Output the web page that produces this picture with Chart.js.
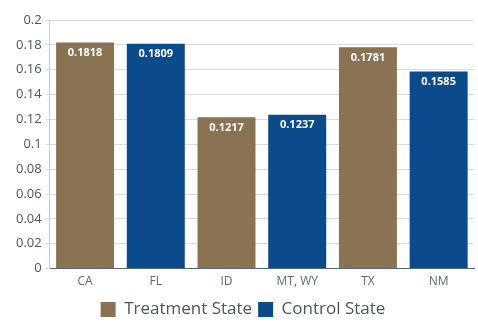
<!DOCTYPE html>
<html>
<head>
<meta charset="utf-8">
<script src="https://cdn.jsdelivr.net/npm/chart.js@4/dist/chart.umd.min.js"></script>
<style>
  html, body { margin: 0; padding: 0; background: #ffffff; }
  #wrap { width: 478px; height: 322px; }
</style>
</head>
<body>
<div id="wrap"><canvas id="c" width="478" height="322"></canvas></div>
<script>
const states = ['CA', 'FL', 'ID', 'MT, WY', 'TX', 'NM'];
const treatmentValues = [0.1818, null, 0.1217, null, 0.1781, null];
const controlValues = [null, 0.1809, null, 0.1237, null, 0.1585];
const yTicks = [0, 0.02, 0.04, 0.06, 0.08, 0.1, 0.12, 0.14, 0.16, 0.18, 0.2];

const brown = '#8a7352';
const navy = '#0b4a8b';
const textColor = '#4a5564';

// Writes each bar's value in white just inside its top edge
const valueLabels = {
  id: 'valueLabels',
  afterDatasetsDraw(chart) {
    const ctx = chart.ctx;
    ctx.save();
    ctx.font = 'bold 11px "Open Sans", sans-serif';
    ctx.fillStyle = '#ffffff';
    ctx.textAlign = 'center';
    ctx.textBaseline = 'top';
    chart.data.datasets.forEach((ds, i) => {
      chart.getDatasetMeta(i).data.forEach((bar, j) => {
        const v = ds.data[j];
        if (v === null) return;
        ctx.fillText(v.toFixed(4), bar.x, bar.y + 5);
      });
    });
    ctx.restore();
  }
};

new Chart(document.getElementById('c'), {
  type: 'bar',
  data: {
    labels: states,
    datasets: [
      { label: 'Treatment State', data: treatmentValues, backgroundColor: brown, skipNull: true },
      { label: 'Control State', data: controlValues, backgroundColor: navy, skipNull: true }
    ]
  },
  options: {
    responsive: false,
    animation: false,
    layout: { padding: { left: 12, right: 4, top: 20, bottom: -6 } },
    datasets: { bar: { categoryPercentage: 0.82, barPercentage: 1.0 } },
    plugins: {
      tooltip: { enabled: false },
      legend: {
        position: 'bottom',
        labels: {
          boxWidth: 15, boxHeight: 15, padding: 6,
          color: textColor,
          font: { family: '"Open Sans", sans-serif', size: 17 }
        }
      }
    },
    scales: {
      x: {
        grid: { display: false, drawTicks: false },
        border: { color: '#55667a', width: 1 },
        ticks: { color: '#5d6878', font: { family: '"Open Sans", sans-serif', size: 12 }, padding: 6 }
      },
      y: {
        min: 0, max: 0.2,
        afterBuildTicks(axis) { axis.ticks = yTicks.map(v => ({ value: v })); },
        grid: { color: '#dcdcdc', drawTicks: true, tickLength: 4 },
        border: { color: '#c8ccd8' },
        ticks: {
          color: textColor,
          font: { family: '"Open Sans", sans-serif', size: 13 },
          padding: 4,
          callback: v => String(Math.round(v * 100) / 100)
        }
      }
    }
  },
  plugins: [valueLabels]
});
</script>
</body>
</html>
